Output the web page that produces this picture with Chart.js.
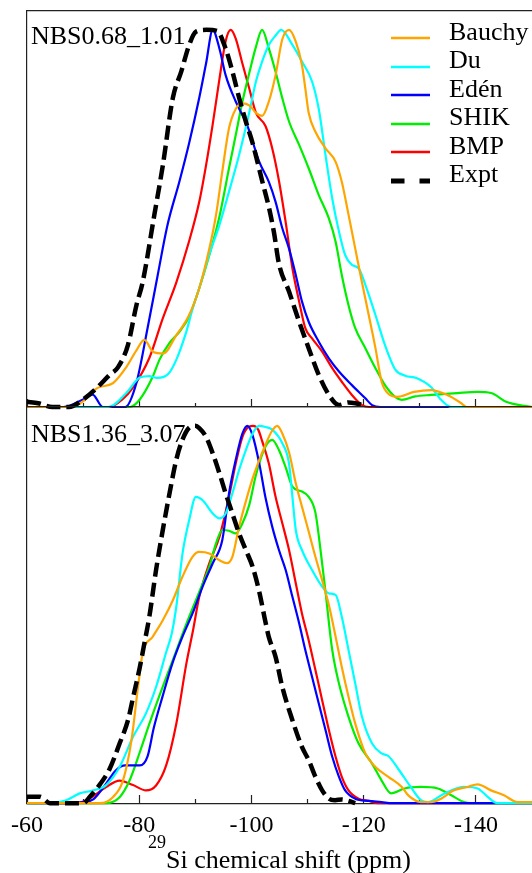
<!DOCTYPE html>
<html>
<head>
<meta charset="utf-8">
<script src="https://cdn.jsdelivr.net/npm/chart.js@4.4.1/dist/chart.umd.min.js"></script>
<style>
  html, body { margin: 0; padding: 0; background: #fff; overflow: hidden; }
  #wrap { position: relative; width: 532px; height: 873px; font-family: "Liberation Serif", "Times New Roman", serif; color: #000; }
  #wrap canvas { position: absolute; left: 0; }
  .plabel { position: absolute; font-size: 26px; line-height: 28px; white-space: nowrap; }
  .legtext { position: absolute; left: 449px; font-size: 26px; line-height: 28px; white-space: nowrap; }
  .legline { position: absolute; left: 391px; width: 40px; height: 8px; }
  #xtitle { position: absolute; left: 27px; width: 505px; top: 845px; text-align: center; font-size: 26px; line-height: 30px; white-space: nowrap; }
  #xtitle span { font-size: 18px; position: relative; top: -20px; }
</style>
</head>
<body>
<div id="wrap">
  <canvas id="cTop" width="532" height="410" style="top:0px"></canvas>
  <canvas id="cBot" width="532" height="473" style="top:400px"></canvas>
  <div class="plabel" id="lab0" style="left:31px;top:22px"></div>
  <div class="plabel" id="lab1" style="left:31px;top:420px"></div>
  <div id="legend"></div>
  <div id="xtitle"><span>29</span>Si chemical shift (ppm)</div>
</div>
<script>
// ---------------- data ----------------
const majorTicks = [-60, -80, -100, -120, -140];
const minorTicks = [-70, -90, -110, -130];
const seriesNames = ['Bauchy', 'Du', 'Edén', 'SHIK', 'BMP', 'Expt'];
const panelNames = ['NBS0.68_1.01', 'NBS1.36_3.07'];

// top panel: NBS0.68_1.01  ([ppm, normalised intensity])
const bauchyTop = [[-60,0],[-68,0],[-70,0.015],[-72.5,0.05],[-75.3,0.063],[-77.7,0.106],[-79.5,0.15],[-80.9,0.178],[-82.5,0.146],[-84.3,0.142],[-86.6,0.19],[-88.9,0.244],[-90.7,0.315],[-92.5,0.42],[-93.7,0.51],[-94.8,0.624],[-96.0,0.739],[-97.2,0.79],[-98.4,0.805],[-99.6,0.80],[-100.8,0.78],[-101.9,0.772],[-103.1,0.81],[-104.3,0.88],[-105.5,0.975],[-106.7,1.0],[-107.9,0.969],[-109.0,0.907],[-109.6,0.845],[-110.2,0.78],[-111.4,0.73],[-113.2,0.686],[-115.0,0.65],[-116.1,0.597],[-117.3,0.51],[-118.5,0.42],[-119.7,0.33],[-120.9,0.244],[-122.1,0.156],[-123.2,0.067],[-124.4,0.035],[-126.0,0.027],[-129.0,0.04],[-132.0,0.045],[-134.9,0.032],[-137.4,0.01],[-138.3,0],[-150,0]];
const duTop = [[-60,0],[-74.5,0],[-77.7,0.037],[-80.1,0.078],[-81.8,0.082],[-83.2,0.077],[-85.2,0.088],[-86.6,0.125],[-88.4,0.2],[-89.5,0.26],[-90.7,0.315],[-92.5,0.405],[-94.3,0.483],[-96.0,0.571],[-97.8,0.668],[-99.6,0.78],[-100.8,0.863],[-101.9,0.916],[-103.1,0.96],[-104.3,0.985],[-105.3,1.0],[-107.3,0.96],[-109.0,0.916],[-110.8,0.863],[-112.0,0.79],[-113.2,0.668],[-114.4,0.553],[-115.6,0.465],[-116.7,0.403],[-117.9,0.377],[-119.1,0.368],[-120.3,0.324],[-122.1,0.244],[-123.8,0.164],[-125.6,0.1],[-127.4,0.083],[-129.4,0.077],[-132.0,0.053],[-133.8,0.019],[-135.6,0],[-150,0]];
const edenTop = [[-60,0],[-66.5,0],[-70,0.02],[-71.7,0.033],[-73.5,0],[-77.5,0],[-79.5,0.064],[-81.5,0.21],[-83.3,0.35],[-85.0,0.48],[-87.2,0.60],[-88.9,0.70],[-90.7,0.82],[-91.9,0.91],[-93.1,1.0],[-94.3,0.95],[-95.4,0.88],[-97.2,0.81],[-99.3,0.745],[-101.4,0.65],[-103.1,0.597],[-104.3,0.544],[-105.5,0.474],[-106.7,0.42],[-107.9,0.35],[-109.0,0.28],[-110.2,0.226],[-112.0,0.173],[-113.8,0.129],[-115.6,0.094],[-117.9,0.058],[-120.3,0.023],[-121.5,0.005],[-123,0],[-150,0]];
const shikTop = [[-60,0],[-78.3,0],[-80.1,0.02],[-82.4,0.08],[-83.6,0.125],[-85.4,0.17],[-87.2,0.2],[-88.9,0.24],[-90.7,0.315],[-92.5,0.403],[-94.3,0.505],[-96.0,0.633],[-97.2,0.721],[-98.4,0.81],[-99.6,0.885],[-100.8,0.955],[-101.9,1.0],[-103.1,0.951],[-104.3,0.889],[-105.5,0.819],[-106.7,0.757],[-108.5,0.695],[-110.2,0.633],[-112.0,0.562],[-113.8,0.50],[-115.0,0.438],[-116.1,0.35],[-117.3,0.27],[-118.5,0.209],[-120.3,0.156],[-122.1,0.103],[-123.8,0.058],[-125.6,0.027],[-126.8,0.019],[-129.2,0.028],[-132.0,0.032],[-136.7,0.037],[-140.2,0.04],[-142.7,0.037],[-145.5,0.013],[-148.6,0.003],[-150,0]];
const bmpTop = [[-60,0],[-74.7,0],[-77,0.02],[-78.8,0.05],[-81.8,0.13],[-84.2,0.235],[-86.6,0.33],[-88.9,0.44],[-90.7,0.544],[-91.9,0.64],[-93.1,0.75],[-94.3,0.87],[-95.4,0.97],[-96.3,1.0],[-97.2,0.977],[-98.4,0.91],[-99.6,0.845],[-100.8,0.78],[-102.5,0.745],[-103.7,0.686],[-104.9,0.60],[-106.1,0.49],[-107.3,0.368],[-108.5,0.28],[-109.6,0.209],[-110.8,0.182],[-112.6,0.147],[-114.4,0.103],[-116.1,0.067],[-117.9,0.032],[-119.7,0.005],[-121,0],[-150,0]];
const exptTop = [[-60,0.014],[-62,0.01],[-64.5,0],[-67.5,0],[-70,0.02],[-72.4,0.05],[-74.7,0.085],[-76.2,0.105],[-78,0.165],[-79.5,0.27],[-80.6,0.33],[-82.7,0.51],[-84.2,0.64],[-86.0,0.82],[-87.5,0.89],[-88.9,0.96],[-90.1,0.995],[-92,1.0],[-93.9,0.997],[-95.4,0.95],[-96.6,0.89],[-97.8,0.82],[-99.0,0.757],[-100.2,0.70],[-101.9,0.60],[-103.1,0.53],[-104.0,0.464],[-104.9,0.38],[-106.7,0.306],[-108.5,0.226],[-110.2,0.156],[-112.0,0.085],[-113.8,0.032],[-115.6,0.005],[-117.3,0.012],[-118.5,0.01],[-120,0.005]];

// bottom panel: NBS1.36_3.07
const bauchyBot = [[-60,0],[-73,0],[-75.3,0.016],[-77.1,0.06],[-78.6,0.165],[-79.8,0.31],[-80.6,0.397],[-82.4,0.441],[-84.2,0.485],[-86.0,0.538],[-87.7,0.60],[-89.5,0.653],[-90.7,0.666],[-92.5,0.662],[-94.3,0.644],[-95.6,0.636],[-96.6,0.653],[-97.8,0.733],[-99.0,0.80],[-100.2,0.86],[-101.4,0.91],[-102.5,0.95],[-103.6,0.985],[-104.6,1.0],[-105.5,0.98],[-106.7,0.93],[-107.9,0.848],[-109.0,0.786],[-110.2,0.72],[-111.4,0.653],[-112.6,0.591],[-113.8,0.525],[-115.0,0.441],[-116.1,0.361],[-117.3,0.282],[-118.5,0.211],[-120.3,0.132],[-122.1,0.096],[-124.4,0.07],[-126.8,0.043],[-128.0,0.02],[-130.2,0.003],[-132.0,0.003],[-133.8,0.012],[-136.1,0.034],[-138.5,0.043],[-140.3,0.05],[-142.7,0.034],[-145.0,0.021],[-147.4,0.003],[-150,0.003]];
const duBot = [[-60,0],[-64,0],[-67,0.008],[-69.4,0.026],[-71.8,0.034],[-74.1,0.048],[-76.5,0.096],[-78.9,0.176],[-81.2,0.238],[-83.0,0.308],[-84.8,0.40],[-85.8,0.45],[-86.6,0.52],[-87.7,0.66],[-88.9,0.75],[-90.1,0.812],[-91.3,0.803],[-93.1,0.768],[-94.3,0.755],[-95.4,0.768],[-96.6,0.821],[-97.8,0.883],[-99.0,0.936],[-100.2,0.98],[-101.4,1.0],[-102.5,0.997],[-103.7,0.99],[-105.5,0.954],[-106.7,0.90],[-107.3,0.812],[-107.9,0.724],[-109.0,0.671],[-110.8,0.618],[-112.6,0.574],[-113.8,0.556],[-115.0,0.552],[-116.1,0.494],[-117.3,0.406],[-118.5,0.317],[-119.7,0.229],[-121.5,0.158],[-123.2,0.132],[-124.4,0.125],[-126.2,0.09],[-128.3,0.045],[-130.2,0.008],[-131.4,0.003],[-134.4,0.026],[-137.9,0.043],[-140.3,0.039],[-142.1,0.017],[-143.8,0],[-150,0]];
const edenBot = [[-60,0],[-66,0],[-70,0.003],[-71.8,0.01],[-74.1,0.052],[-75.9,0.088],[-77.5,0.1],[-80.1,0.1],[-81.5,0.125],[-82.6,0.2],[-84.2,0.285],[-85.9,0.37],[-87.7,0.441],[-89.5,0.503],[-91.3,0.574],[-93.1,0.636],[-94.8,0.697],[-96.0,0.821],[-97.2,0.91],[-98.4,0.98],[-99.3,1.0],[-100.2,0.975],[-101.4,0.9],[-102.5,0.81],[-103.7,0.733],[-104.9,0.671],[-106.1,0.618],[-107.3,0.547],[-108.5,0.477],[-109.6,0.406],[-110.8,0.335],[-112.0,0.264],[-113.2,0.194],[-114.4,0.123],[-115.6,0.07],[-116.7,0.034],[-118.5,0.012],[-120.9,0.006],[-123.2,0.003],[-125,0],[-150,0]];
const shikBot = [[-60,0],[-74,0],[-76.5,0.016],[-78.3,0.061],[-80.1,0.135],[-81.8,0.21],[-83.6,0.285],[-86.0,0.38],[-88.4,0.475],[-90.7,0.56],[-92.5,0.627],[-93.7,0.689],[-94.8,0.724],[-96.0,0.722],[-97.2,0.715],[-98.4,0.742],[-99.6,0.79],[-100.8,0.87],[-102.5,0.945],[-103.7,0.963],[-104.9,0.936],[-106.1,0.89],[-107.3,0.839],[-109.0,0.826],[-110.2,0.812],[-111.4,0.77],[-112.4,0.66],[-113.2,0.56],[-114.4,0.406],[-115.6,0.317],[-117.3,0.229],[-119.1,0.158],[-121.5,0.105],[-123.2,0.06],[-124.9,0.026],[-127.3,0.039],[-130.2,0.043],[-133.2,0.039],[-135.6,0.021],[-137.9,0.003],[-139,0],[-150,0]];
const bmpBot = [[-60,0],[-68.8,0],[-71.2,0.013],[-74.1,0.043],[-76.5,0.06],[-78.9,0.048],[-81.2,0.034],[-83.0,0.047],[-84.8,0.1],[-86.6,0.21],[-88.4,0.37],[-89.6,0.459],[-90.7,0.547],[-92.5,0.636],[-94.3,0.706],[-96.0,0.812],[-97.2,0.9],[-98.4,0.971],[-99.6,0.998],[-100.3,1.0],[-101.2,0.99],[-101.9,0.96],[-103.1,0.9],[-104.3,0.812],[-105.5,0.742],[-106.7,0.671],[-107.9,0.583],[-109.0,0.503],[-110.2,0.432],[-111.4,0.353],[-112.6,0.273],[-113.8,0.194],[-115.0,0.123],[-116.1,0.07],[-117.3,0.034],[-119.1,0.012],[-120.9,0.006],[-122.5,0],[-150,0]];
const exptBot = [[-60,0.017],[-62.3,0.017],[-64.1,0],[-70,0],[-71.2,0.017],[-73,0.05],[-74.7,0.09],[-76.5,0.158],[-78,0.22],[-78.9,0.28],[-80.1,0.36],[-81,0.43],[-81.8,0.494],[-83,0.618],[-84.2,0.724],[-85.4,0.821],[-86.6,0.91],[-87.7,0.963],[-88.9,0.995],[-90,1.0],[-90.7,0.994],[-91.9,0.971],[-93.1,0.927],[-94.3,0.874],[-95.4,0.821],[-96.6,0.768],[-97.8,0.715],[-99,0.671],[-100.2,0.627],[-101.4,0.56],[-102.5,0.48],[-103.1,0.44],[-104.3,0.388],[-105.5,0.308],[-107.3,0.22],[-109,0.149],[-110.2,0.114],[-111.4,0.07],[-112.6,0.034],[-113.8,0.012],[-114.9,0.008],[-116.1,0.01],[-117.3,0.006],[-118.5,0]];

// ---------------- styles ----------------
const seriesColors = ['#ffa500', '#00ffff', '#0000ff', '#00ee00', '#ff0000', '#000000'];
const AXIS_COLOR = '#222';

Chart.defaults.font.family = '"Liberation Serif", "Times New Roman", serif';
Chart.defaults.color = '#000';

function makeDataset(arr, i) {
  const isExpt = seriesNames[i] === 'Expt';
  return {
    label: seriesNames[i],
    data: arr.map(p => ({ x: p[0], y: p[1] })),
    borderColor: seriesColors[i],
    backgroundColor: seriesColors[i],
    borderWidth: isExpt ? 4.5 : 2.2,
    borderDash: isExpt ? [14, 6] : [],
    pointRadius: 0,
    cubicInterpolationMode: 'monotone',
    fill: false,
    order: isExpt ? -1 : i,
    clip: { left: 0, top: 0, right: 0, bottom: 3 }
  };
}

const xRange = { type: 'linear', min: -150, max: -60, reverse: true };

function tickAxis(list, len) {
  return Object.assign({}, xRange, {
    position: { y: 0 },
    afterBuildTicks: s => { s.ticks = list.map(v => ({ value: v })); },
    ticks: { display: false },
    grid: { display: true, drawOnChartArea: false, drawTicks: true, tickLength: len, tickColor: AXIS_COLOR, tickWidth: 1.2 },
    border: { display: false }
  });
}

function makeChart(canvasId, seriesList, showLabels, padding) {
  return new Chart(document.getElementById(canvasId), {
    type: 'line',
    data: { datasets: seriesList.map(makeDataset) },
    options: {
      responsive: false,
      animation: false,
      devicePixelRatio: 1,
      layout: { padding: padding },
      plugins: { legend: { display: false }, tooltip: { enabled: false }, title: { display: false } },
      scales: {
        x: Object.assign({}, xRange, {
          position: 'bottom',
          afterBuildTicks: s => { s.ticks = majorTicks.map(v => ({ value: v })); },
          ticks: { display: showLabels, font: { size: 24 }, padding: 8, maxRotation: 0, autoSkip: false, color: '#000' },
          grid: { display: true, drawOnChartArea: false, drawTicks: false },
          border: { display: true, color: AXIS_COLOR, width: 1.2 }
        }),
        xTop: Object.assign({}, xRange, {
          position: 'top',
          ticks: { display: false },
          grid: { display: true, drawOnChartArea: false, drawTicks: false },
          border: { display: true, color: AXIS_COLOR, width: 1.2 }
        }),
        y: {
          type: 'linear', min: 0, max: 1.05, position: 'left',
          ticks: { display: false },
          grid: { display: true, drawOnChartArea: false, drawTicks: false },
          border: { display: true, color: AXIS_COLOR, width: 1.2 }
        },
        xMajor: tickAxis(majorTicks, -8),
        xMinor: tickAxis(minorTicks, -4)
      }
    }
  });
}

const topChart = makeChart('cTop', [bauchyTop, duTop, edenTop, shikTop, bmpTop, exptTop], false,
  { left: 27, top: 11, right: 0, bottom: 3 });
const botChart = makeChart('cBot', [bauchyBot, duBot, edenBot, shikBot, bmpBot, exptBot], true,
  { left: 27, top: 7, right: 0, bottom: 25 });

// panel labels
document.getElementById('lab0').textContent = panelNames[0];
document.getElementById('lab1').textContent = panelNames[1];

// legend (built from the datasets)
const legendRows = [32, 60.5, 89, 117.5, 146, 174.5];
const legendEl = document.getElementById('legend');
topChart.data.datasets.forEach((d, i) => {
  const cy = legendRows[i];
  const dash = d.borderDash.length ? 'stroke-dasharray="13.5 15"' : '';
  const w = d.borderDash.length ? 5 : 2.5;
  const line = document.createElement('div');
  line.className = 'legline';
  line.style.top = (cy - 4) + 'px';
  line.innerHTML = '<svg width="40" height="8"><line x1="0" y1="4" x2="39" y2="4" stroke="' + d.borderColor +
    '" stroke-width="' + w + '" ' + dash + '/></svg>';
  legendEl.appendChild(line);
  const t = document.createElement('div');
  t.className = 'legtext';
  t.style.top = (cy - 14.2) + 'px';
  t.textContent = d.label;
  legendEl.appendChild(t);
});
</script>
</body>
</html>
